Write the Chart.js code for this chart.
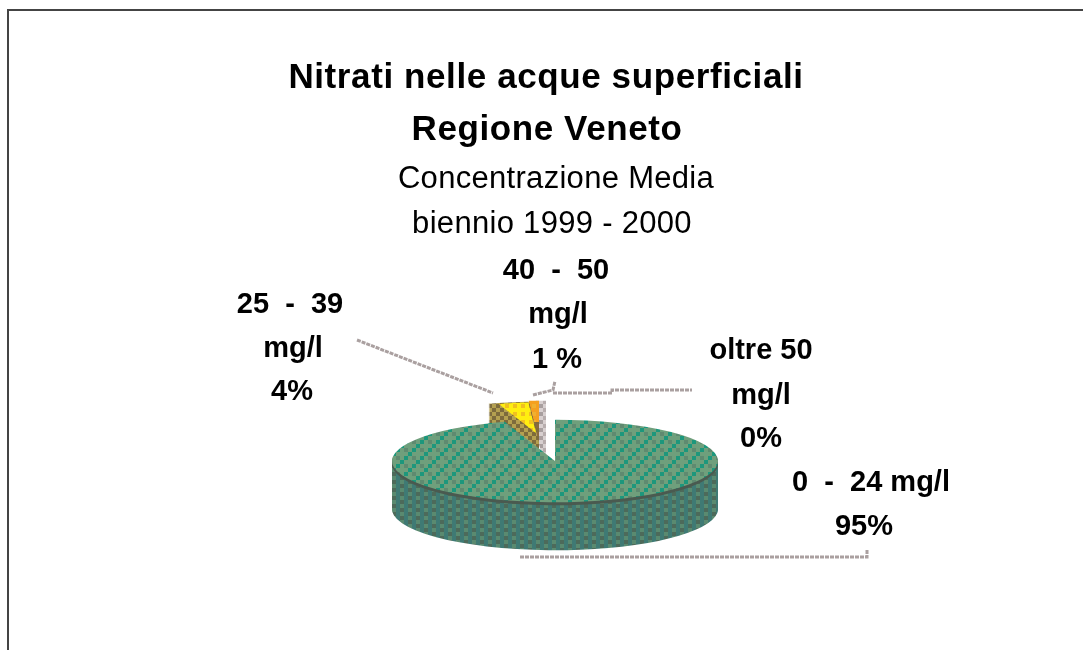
<!DOCTYPE html>
<html>
<head>
<meta charset="utf-8">
<title>Nitrati nelle acque superficiali</title>
<script src="https://cdn.jsdelivr.net/npm/chart.js@4/dist/chart.umd.min.js"></script>
<style>
html, body { margin: 0; background: #fff; }
canvas { display: block; }
</style>
</head>
<body>
<canvas id="myChart" width="1083" height="650"></canvas>
<script>
// data
const categories = ["0 - 24 mg/l", "25 - 39 mg/l", "40 - 50 mg/l", "oltre 50 mg/l"];
const percentages = [95, 4, 1, 0];

const titleLines = [
    { text: "Nitrati nelle acque superficiali", x: 546, y: 78, font: "bold 35px 'Liberation Sans'", spacing: 0.6 },
    { text: "Regione Veneto", x: 547, y: 130, font: "bold 35px 'Liberation Sans'", spacing: 0.6 },
    { text: "Concentrazione Media", x: 556, y: 179, font: "31px 'Liberation Sans'", spacing: 0.3 },
    { text: "biennio 1999 - 2000", x: 552, y: 224, font: "31px 'Liberation Sans'", spacing: 0.3 },
];
const labelLines = [
    { text: "40  -  50", x: 556, y: 271 },
    { text: "mg/l", x: 558, y: 315 },
    { text: "1 %", x: 557, y: 360 },
    { text: "25  -  39", x: 290, y: 305 },
    { text: "mg/l", x: 293, y: 349 },
    { text: "4%", x: 292, y: 392 },
    { text: "oltre 50", x: 761, y: 351 },
    { text: "mg/l", x: 761, y: 396 },
    { text: "0%", x: 761, y: 439 },
    { text: "0  -  24 mg/l", x: 871, y: 483 },
    { text: "95%", x: 864, y: 527 },
];

const flatten = 0.253;      // pie seen at an angle
const faceRadius = [1, 0.74, 1];
const faceShift = [[0, 0], [-3, -9], [0, 0]];
const faceClipBottom = [650, 650, 422];
const sliceShift = [[0, 0], [-16, -19], [-16, -19]];
const sliceDepth = [48, 30, 30];

function dither(size, cells) {
    // small tile of 4px cells, like the old gif palette
    const c = document.createElement("canvas");
    c.width = c.height = size * 4;
    const g = c.getContext("2d");
    cells.forEach(function (row, y) {
        row.forEach(function (col, x) {
            g.fillStyle = col;
            g.fillRect(x * 4, y * 4, 4, 4);
        });
    });
    return g.createPattern(c, "repeat");
}

const G = "#6f9f7c", T = "#1d977c", D = "#5f8a70";
const S = "#5a8a70", V = "#3f7a74", K = "#4d6a5a";
const Y = "#ffee10", A = "#f0c020", B = "#b4a050", N = "#7d6b3c", O = "#f5a020", R = "#8a6a3c";

const greenTop = dither(4, [[G, T, G, D], [T, G, G, G], [G, D, G, T], [G, G, T, G]]);
const greenSide = dither(4, [[S, V, K, V], [K, V, S, V], [S, V, K, V], [K, V, S, V]]);
const greenRim = dither(1, [["#4a5a50"]]);
const yellowTop = dither(2, [[Y, Y], [Y, A]]);
const tanSide = dither(2, [[B, N], [N, B]]);
const orangeTop = dither(2, [[O, O], [O, "#f0b030"]]);
const orangeSide = dither(2, [[R, N], [N, R]]);
const grayWall = dither(2, [["#b8aeae", "#d8d0d0"], ["#d8d0d0", "#a89f9f"]]);
const sideColors = [greenSide, tanSide, orangeSide, tanSide];
const topColors = [greenTop, yellowTop, orangeTop, tanSide];

const scaleBack = new DOMMatrix().scale(1, 1 / flatten);

function drawArcWith(chart, arc, fill, dy, radius) {
    const saved = arc.options;
    const savedR = arc.outerRadius;
    const o = Object.create(saved);
    o.backgroundColor = fill;
    o.borderWidth = 0;
    arc.options = o;
    if (radius) arc.outerRadius = radius;
    fill.setTransform(new DOMMatrix().translate(0, -dy / flatten).multiply(scaleBack));
    arc.draw(chart.ctx);
    arc.options = saved;
    arc.outerRadius = savedR;
}

const pie3d = {
    id: "pie3d",
    beforeDatasetsDraw: function (chart) {
        const ctx = chart.ctx;
        const arcs = chart.getDatasetMeta(0).data;
        const cy = arcs[0].y;
        ctx.imageSmoothingEnabled = false;

        function slice(i, dx, dy, fn) {
            ctx.save();
            ctx.translate(dx + sliceShift[i][0], dy + sliceShift[i][1] + cy);
            ctx.scale(1, flatten);
            ctx.translate(0, -cy);
            fn();
            ctx.restore();
        }

        // exploded slices go first, the big slice covers their feet
        [2, 1, 0].forEach(function (i) {
            if (percentages[i] === 0) return;
            if (i === 2) {
                for (let d = sliceDepth[i]; d >= 0; d--) {
                    slice(i, 7, d, function () { drawArcWith(chart, arcs[i], grayWall, d + sliceShift[i][1]); });
                }
            }
            for (let d = sliceDepth[i]; d >= 1; d--) {
                const side = (i === 0 && d <= 3) ? greenRim : sideColors[i];
                slice(i, 0, d, function () { drawArcWith(chart, arcs[i], side, d + sliceShift[i][1]); });
            }
            ctx.save();
            ctx.beginPath();
            ctx.rect(0, 0, chart.width, faceClipBottom[i]);
            ctx.clip();
            slice(i, faceShift[i][0], faceShift[i][1], function () {
                drawArcWith(chart, arcs[i], topColors[i], sliceShift[i][1] + faceShift[i][1], arcs[i].outerRadius * faceRadius[i]);
            });
            ctx.restore();
        });
        return false;
    },
    afterDraw: function (chart) {
        const ctx = chart.ctx;
        const arcs = chart.getDatasetMeta(0).data;
        const cx = arcs[0].x, cy = arcs[0].y;

        // frame, only top and left are visible in the picture
        ctx.strokeStyle = "#444";
        ctx.lineWidth = 2;
        ctx.beginPath();
        ctx.moveTo(8, 650);
        ctx.lineTo(8, 10);
        ctx.lineTo(1083, 10);
        ctx.stroke();

        // leader lines hang on the pie centre
        ctx.strokeStyle = "#aaa0a0";
        ctx.lineWidth = 3;
        ctx.setLineDash([4, 1]);
        [
            [[cx - 198, cy - 121], [cx - 62, cy - 68]],
            [[cx - 22, cy - 66], [cx - 2, cy - 71], [cx, cy - 80]],
            [[cx - 2, cy - 68], [cx + 57, cy - 68], [cx + 57, cy - 71], [cx + 137, cy - 71]],
            [[cx - 35, cy + 96], [cx + 312, cy + 96], [cx + 312, cy + 88]],
        ].forEach(function (pts) {
            ctx.beginPath();
            pts.forEach(function (p, i) {
                if (i === 0) ctx.moveTo(p[0], p[1]);
                else ctx.lineTo(p[0], p[1]);
            });
            ctx.stroke();
        });
        ctx.setLineDash([]);

        ctx.fillStyle = "#000";
        ctx.textAlign = "center";
        ctx.textBaseline = "middle";
        titleLines.forEach(function (l) {
            ctx.font = l.font;
            ctx.letterSpacing = l.spacing + "px";
            ctx.fillText(l.text, l.x, l.y);
        });
        ctx.font = "bold 29px 'Liberation Sans'";
        ctx.letterSpacing = "0px";
        labelLines.forEach(function (l) {
            ctx.fillText(l.text, l.x, l.y);
        });
    },
};

const ctx = document.getElementById("myChart").getContext("2d");
new Chart(ctx, {
    type: "pie",
    data: {
        labels: categories,
        datasets: [
            {
                data: percentages,
                backgroundColor: "#6a9a78",
                borderWidth: 0,
            },
        ],
    },
    options: {
        responsive: false,
        animation: false,
        radius: 163,
        layout: { padding: { left: 27, top: 272 } },
        plugins: { legend: { display: false }, tooltip: { enabled: false } },
    },
    plugins: [pie3d],
});
</script>
</body>
</html>
